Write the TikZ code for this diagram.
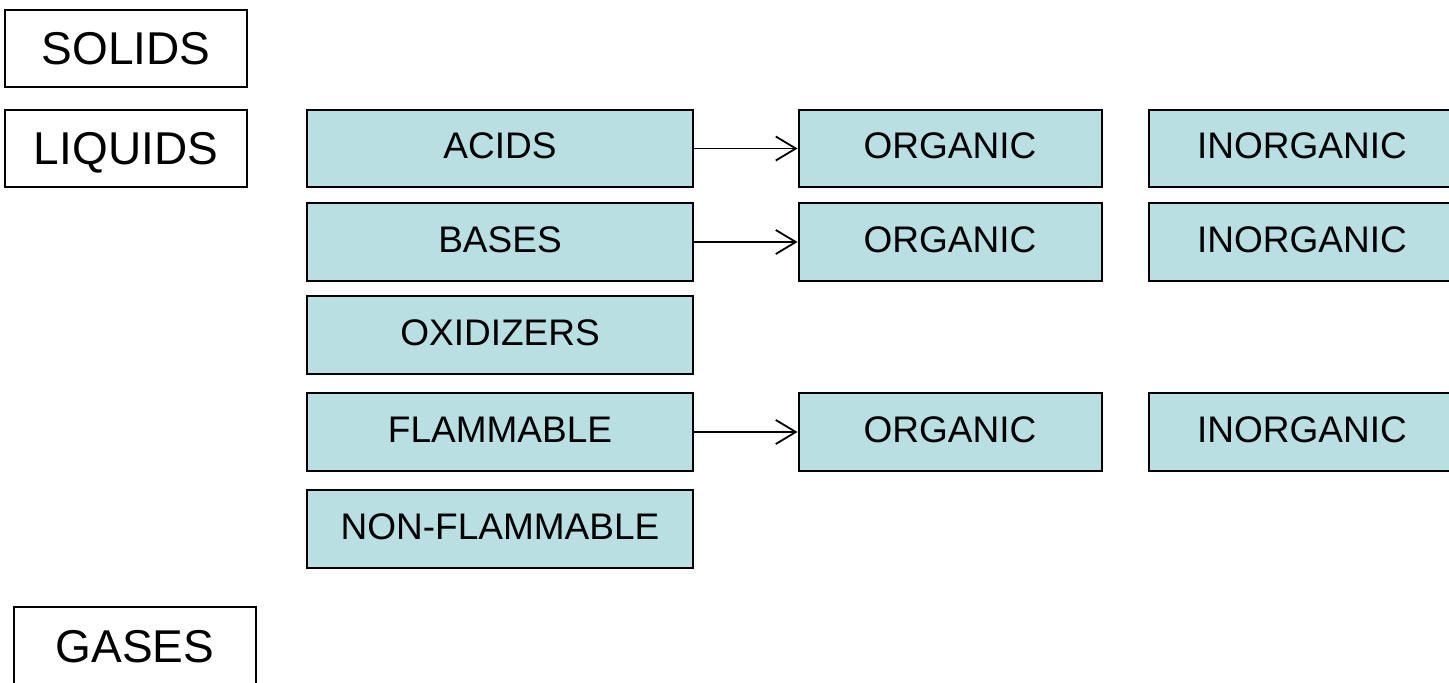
\documentclass[tikz,border=0pt]{standalone}
\usepackage{fontspec}
\setmainfont{Liberation Sans}
\usetikzlibrary{arrows.meta}
\definecolor{boxcyan}{RGB}{185,223,227}
\tikzset{
  statebox/.style={draw=black, line width=0.7pt, fill=white, inner sep=0pt,
    minimum width=121pt, minimum height=38.5pt, font=\fontsize{23}{27}\selectfont,
    text height=16.5pt, text depth=0pt},
  catbox/.style={draw=black, line width=1pt, fill=boxcyan, inner sep=0pt,
    minimum height=38.8pt, font=\fontsize{18.5}{22}\selectfont,
    text height=13.25pt, text depth=3pt},
  widebox/.style={catbox, minimum width=193pt},
  orgbox/.style={catbox, minimum width=151.5pt},
  inorgbox/.style={catbox, minimum width=153pt},
  link/.style={line width=0.85pt, -{Straight Barb[length=10pt,width=12pt,line width=0.9pt]}}
}
\begin{document}
\begin{tikzpicture}[x=0.5pt,y=-0.5pt]
\useasboundingbox (0,0) rectangle (1449,683);
\node[statebox] (solids) at (126,48.5) {SOLIDS};
\node[statebox] (liquids) at (126,148.5) {LIQUIDS};
\node[statebox] (gases) at (135,645.5) {GASES};

\node[widebox] (acids) at (500,148.5) {ACIDS};
\node[widebox] (bases) at (500,242) {BASES};
\node[widebox] (oxid) at (500,335) {OXIDIZERS};
\node[widebox] (flam) at (500,432) {FLAMMABLE};
\node[widebox] (nonflam) at (500,529) {NON-FLAMMABLE};

\node[orgbox] (org1) at (950,148.5) {ORGANIC};
\node[orgbox] (org2) at (950,242) {ORGANIC};
\node[orgbox] (org3) at (950,432) {ORGANIC};

\node[inorgbox] (inorg1) at (1302,148.5) {INORGANIC};
\node[inorgbox] (inorg2) at (1302,242) {INORGANIC};
\node[inorgbox] (inorg3) at (1302,432) {INORGANIC};

\draw[link] (acids) -- (org1);
\draw[link] (bases) -- (org2);
\draw[link] (flam) -- (org3);
\end{tikzpicture}
\end{document}
